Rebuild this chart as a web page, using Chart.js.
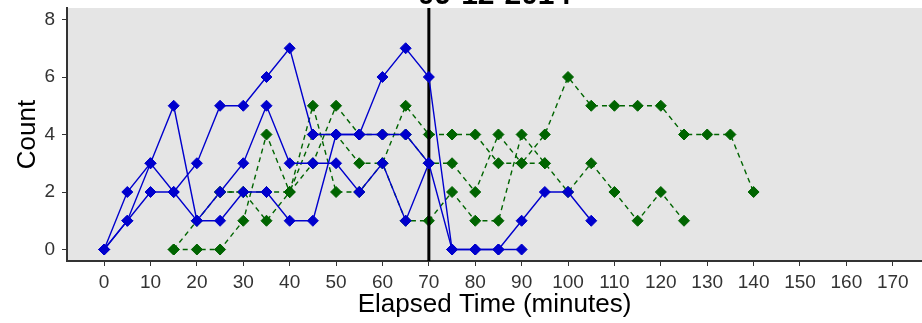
<!DOCTYPE html>
<html>
<head>
<meta charset="utf-8">
<script src="https://cdn.jsdelivr.net/npm/chart.js@4/dist/chart.umd.min.js"></script>
<style>
  html, body { margin: 0; padding: 0; background: #fff; overflow: hidden; }
  #wrap { width: 922px; height: 323px; position: relative; }
</style>
</head>
<body>
<div id="wrap"><canvas id="chart"></canvas></div>
<script>
const TITLE = '09-12-2014';
const MINUTES = [0,5,10,15,20,25,30,35,40,45,50,55,60,65,70,75,80,85,90,95,100,105,110,115,120,125,130,135,140];
const X_TICKS = [0,10,20,30,40,50,60,70,80,90,100,110,120,130,140,150,160,170];
const Y_TICKS = [0,2,4,6,8];
const CUTOFF = 70;

// blue groups (solid)
const BLUE_1 = [0,1,2,2,3,5,5,6,7,4,4,4,6,7,6,0,0,0,0];
const BLUE_2 = [0,1,3,2,1,2,3,5,3,3,3,2,3,1,3];
const BLUE_3 = [0,2,3,5,1,1,2,2,1,1,4,4,4,4,3,0,0,0,1,2,2,1];
// green groups (dashed)
const GREEN_1 = [null,null,null,0,0,0,1,4,2,3,5,4,4,4,3,3,2,4,3,3];
const GREEN_2 = [null,null,null,0,1,2,2,1,2,5,2,2,3,1,1,2,1,1,4,3,2,3,2,1,2,1];
const GREEN_3 = [null,null,null,null,null,2,2,2,2,4,4,3,3,5,4,4,4,3,3,4,6,5,5,5,5,4,4,4,2];

const BLUE = '#0000CD';
const GREEN = '#006400';
const FONT = 'Liberation Sans, Arial, sans-serif';

const toPoints = vals => MINUTES.map((m, i) => ({ x: m, y: vals[i] ?? null }));

const line = (vals, color, dashed) => ({
  data: toPoints(vals),
  borderColor: color,
  backgroundColor: color,
  borderWidth: 1.4,
  borderDash: dashed ? [5, 4] : [],
  pointStyle: 'rectRot',
  pointRadius: 5.5,
  pointBorderWidth: 1,
  tension: 0,
  spanGaps: false
});

const panelBg = {
  id: 'panelBg',
  beforeDraw(chart) {
    const { ctx, chartArea: a } = chart;
    ctx.save();
    ctx.fillStyle = '#E5E5E5';
    ctx.fillRect(a.left, a.top, a.right - a.left, a.bottom - a.top);
    ctx.restore();
  }
};

// black vertical marker, drawn above green and below blue
const cutoffLine = {
  id: 'cutoffLine',
  beforeDatasetDraw(chart, args) {
    if (args.index !== 2) return;
    const { ctx, chartArea: a, scales } = chart;
    const x = scales.x.getPixelForValue(CUTOFF);
    ctx.save();
    ctx.strokeStyle = '#000';
    ctx.lineWidth = 3;
    ctx.beginPath();
    ctx.moveTo(x, a.top);
    ctx.lineTo(x, a.bottom);
    ctx.stroke();
    ctx.restore();
  }
};

new Chart(document.getElementById('chart'), {
  type: 'line',
  data: {
    datasets: [
      line(BLUE_1, BLUE, false),
      line(BLUE_2, BLUE, false),
      line(BLUE_3, BLUE, false),
      line(GREEN_1, GREEN, true),
      line(GREEN_2, GREEN, true),
      line(GREEN_3, GREEN, true)
    ]
  },
  options: {
    responsive: true,
    maintainAspectRatio: false,
    animation: false,
    layout: { padding: 0, autoPadding: false },
    plugins: {
      legend: { display: false },
      tooltip: { enabled: false },
      title: {
        display: true,
        fullSize: false,
        text: TITLE,
        color: '#000',
        font: { family: FONT, size: 30, weight: 'bold' },
        padding: { top: -22.5, bottom: -5.5 }
      }
    },
    scales: {
      x: {
        type: 'linear',
        min: -8,
        max: 176.3,
        afterBuildTicks: s => { s.ticks = X_TICKS.map(v => ({ value: v })); },
        afterFit: s => { s.height = 62; s.paddingLeft = 0; s.paddingRight = 0; },
        grid: { display: true, drawOnChartArea: false, drawTicks: true, tickLength: 5, color: '#333' },
        border: { display: true, color: '#333', width: 2 },
        ticks: { color: '#333', padding: 5, maxRotation: 0, autoSkip: false, font: { family: FONT, size: 19 } },
        title: { display: true, text: 'Elapsed Time (minutes)', color: '#000', padding: { top: 0, bottom: 3 }, font: { family: FONT, size: 26 } }
      },
      y: {
        type: 'linear',
        min: -0.4,
        max: 8.4,
        afterBuildTicks: s => { s.ticks = Y_TICKS.map(v => ({ value: v })); },
        afterFit: s => { s.width = 67; s.paddingTop = 0; s.paddingBottom = 0; },
        grid: { display: true, drawOnChartArea: false, drawTicks: true, tickLength: 5, color: '#333' },
        border: { display: true, color: '#333', width: 2 },
        ticks: { color: '#333', padding: 7, font: { family: FONT, size: 19 } },
        title: { display: true, text: 'Count', color: '#000', padding: { top: 12, bottom: 0 }, font: { family: FONT, size: 26 } }
      }
    }
  },
  plugins: [panelBg, cutoffLine]
});
</script>
</body>
</html>
